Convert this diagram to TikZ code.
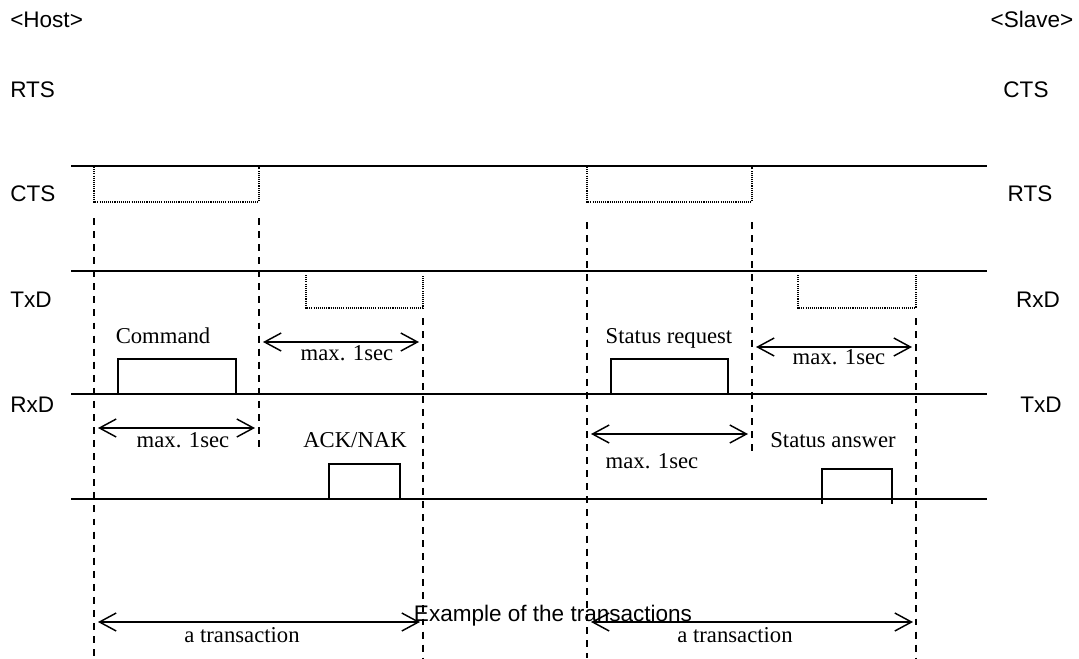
\documentclass[tikz,border=0pt]{standalone}
\usepackage{fontspec}
\setmainfont{Liberation Serif}
\newfontfamily\arialfont{Liberation Sans}
\usetikzlibrary{arrows.meta}
\tikzset{
  sig/.style={line width=1.1pt, black},
  pulse/.style={line width=1.1pt, black},
  dotbox/.style={line width=0.8pt, dash pattern=on 0.8pt off 0.8pt, black},
  vdash/.style={line width=1pt, dash pattern=on 5.2pt off 4.6pt, black},
  dimarrow/.style={line width=1.1pt, {Straight Barb[length=12.5pt,width=13.5pt,line width=1.1pt]}-{Straight Barb[length=12.5pt,width=13.5pt,line width=1.1pt]}},
  sans/.style={font=\arialfont\fontsize{16.9}{20}\selectfont, inner sep=0pt, anchor=base west},
  sansr/.style={font=\arialfont\fontsize{16.9}{20}\selectfont, inner sep=0pt, anchor=base},
  serif/.style={font=\fontsize{17}{20}\selectfont, inner sep=0pt, anchor=base},
}
\begin{document}
\begin{tikzpicture}[x=0.75pt,y=-0.75pt]
\useasboundingbox (0,0) rectangle (1079,658);

% side labels
\node[sans] (host) at (10,27) {<Host>};
\node[sans] (lrts) at (10,97) {RTS};
\node[sans] (lcts) at (10,201) {CTS};
\node[sans] (ltxd) at (10,307) {TxD};
\node[sans] (lrxd) at (10,412) {RxD};
\node[sansr] (slave) at (1032,27) {<Slave>};
\node[sansr] (rcts) at (1026,97) {CTS};
\node[sansr] (rrts) at (1030,201) {RTS};
\node[sansr] (rrxd) at (1038,307) {RxD};
\node[sansr] (rtxd) at (1041,412) {TxD};

% signal lines
\draw[sig] (71,166) coordinate (l1a) -- (987,166) coordinate (l1b);
\draw[sig] (71,271) coordinate (l2a) -- (987,271) coordinate (l2b);
\draw[sig] (71,394) coordinate (l3a) -- (987,394) coordinate (l3b);
\draw[sig] (71,499) coordinate (l4a) -- (987,499) coordinate (l4b);

% dotted boxes (CTS / RTS)
\draw[dotbox] (94,167) -- (94,202) -- (259,202) -- (259,167);
\draw[dotbox] (587,167) -- (587,202) -- (752,202) -- (752,167);
% dotted boxes (TxD)
\draw[dotbox] (306,275) -- (306,308) -- (423,308) -- (423,275);
\draw[dotbox] (798,275) -- (798,308) -- (916,308) -- (916,275);

% pulses
\draw[pulse] (118,394) -- (118,359) -- (236,359) -- (236,394);
\draw[pulse] (611,394) -- (611,359) -- (728,359) -- (728,394);
\draw[pulse] (329,499) -- (329,464) -- (400,464) -- (400,499);
\draw[pulse] (822,504) -- (822,469) -- (892,469) -- (892,504);

% dashed verticals
\draw[vdash] (94,218) coordinate (v1t) -- (94,658) coordinate (v1b);
\draw[vdash] (259,218) coordinate (v2t) -- (259,452) coordinate (v2b);
\draw[vdash] (423,318) coordinate (v3t) -- (423,658) coordinate (v3b);
\draw[vdash] (587,222) coordinate (v4t) -- (587,658) coordinate (v4b);
\draw[vdash] (752,222) coordinate (v5t) -- (752,452) coordinate (v5b);
\draw[vdash] (916,318) coordinate (v6t) -- (916,658) coordinate (v6b);

% labels
\node[serif] (cmd) at (163,343) {Command};
\node[serif] (streq) at (669,343) {Status request};
\node[serif] (ack) at (355,447) {ACK/NAK};
\node[serif] (stans) at (833,447) {Status answer};

% timing arrows
\coordinate (a1l) at (263,342); \coordinate (a1r) at (419,342);
\draw[dimarrow] (a1l) -- (a1r);
\node[serif] (m1) at (347,360) {max. 1sec};

\coordinate (a2l) at (98,428); \coordinate (a2r) at (255,428);
\draw[dimarrow] (a2l) -- (a2r);
\node[serif] (m2) at (183,447) {max. 1sec};

\coordinate (a3l) at (756,347); \coordinate (a3r) at (912,347);
\draw[dimarrow] (a3l) -- (a3r);
\node[serif] (m3) at (839,364) {max. 1sec};

\coordinate (a4l) at (591,434); \coordinate (a4r) at (748,434);
\draw[dimarrow] (a4l) -- (a4r);
\node[serif] (m4) at (652,468) {max. 1sec};

\coordinate (a5l) at (98,622); \coordinate (a5r) at (420,622);
\draw[dimarrow] (a5l) -- (a5r);
\node[serif] (t1) at (242,642) {a transaction};

\coordinate (a6l) at (591,622); \coordinate (a6r) at (913,622);
\draw[dimarrow] (a6l) -- (a6r);
\node[serif] (t2) at (735,642) {a transaction};

\node[sansr] (title) at (553,621) {Example of the transactions};
\end{tikzpicture}
\end{document}
